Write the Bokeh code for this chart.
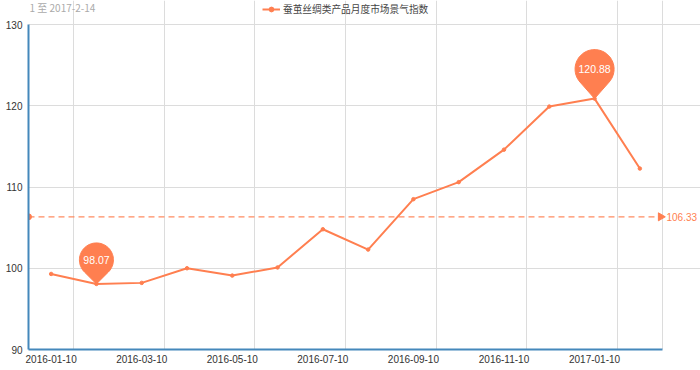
import numpy as np
from bokeh.plotting import figure
from bokeh.models import (Range1d, FixedTicker, Legend, LegendItem, Label,
                          ColumnDataSource)
from bokeh.embed import file_html
from bokeh.resources import INLINE
from bokeh.core.properties import value

# ---------------- data ----------------
dates = ["2016-01-10", "2016-02-10", "2016-03-10", "2016-04-10", "2016-05-10",
         "2016-06-10", "2016-07-10", "2016-08-10", "2016-09-10", "2016-10-10",
         "2016-11-10", "2016-12-10", "2017-01-10", "2017-02-10"]
index_values = [99.3, 98.07, 98.2, 100.0, 99.1, 100.1, 104.8, 102.3,
                108.5, 110.6, 114.6, 119.9, 120.88, 112.27]
series_name = "蚕茧丝绸类产品月度市场景气指数"
range_text = "1 至 2017-2-14"
y_ticks = [90, 100, 110, 120, 130]

# ---------------- style ----------------
COLOR = "#ff7f50"
AXIS = "#4488bb"
GRID = "#dcdcdc"
TXT = "#333333"
FONT = "Liberation Sans"
CJK = "Noto Sans CJK SC"

W, H = 700, 370
L, B = 28, 21                 # left axis panel, bottom axis panel
PLOT_W, PLOT_H = 634, 325     # pixel size of the data grid
TOP_PAD = 24                  # space above the grid (inside the frame)
RIGHT_PAD = W - L - PLOT_W    # space right of the grid (inside the frame)

n = len(dates)
xs = np.arange(n) + 0.5
ys = np.array(index_values)
mean = float(np.mean(ys))
y0, y1 = y_ticks[0], y_ticks[-1]
pxx = PLOT_W / n
pxy = PLOT_H / (y1 - y0)

p = figure(width=W, height=H, output_backend="svg", toolbar_location=None,
           x_range=Range1d(0, n + RIGHT_PAD / pxx),
           y_range=Range1d(y0, y1 + TOP_PAD / pxy),
           min_border_left=L, min_border_right=0, min_border_top=0,
           min_border_bottom=B, background_fill_color="white",
           border_fill_color="white", outline_line_color=None)

# axes
p.xaxis.ticker = FixedTicker(ticks=list(xs[::2]))
p.xaxis.major_label_overrides = {float(x): d for x, d in zip(xs[::2], dates[::2])}
p.xaxis.bounds = (0, n)
p.yaxis.ticker = FixedTicker(ticks=y_ticks)
p.yaxis.bounds = (y0, y1)
for ax in (p.xaxis[0], p.yaxis[0]):
    ax.axis_line_color = AXIS
    ax.axis_line_width = 2
    ax.major_tick_line_color = None
    ax.minor_tick_line_color = None
    ax.major_tick_out = 0
    ax.minor_tick_out = 0
    ax.major_label_text_font = FONT
    ax.major_label_text_font_size = "10px"
    ax.major_label_text_color = TXT
p.xaxis.major_label_standoff = 5
p.yaxis.major_label_standoff = 6

# grid
p.xgrid.ticker = FixedTicker(ticks=list(np.arange(1, n, 2)) + [n])
p.xgrid.bounds = (y0, y1)
p.ygrid.ticker = FixedTicker(ticks=y_ticks)
p.ygrid.bounds = (0, n)
p.xgrid.grid_line_color = GRID
p.ygrid.grid_line_color = GRID

# average mark line
p.line([0, n], [mean, mean], line_color=COLOR, line_width=1.3,
       line_dash="6 4", line_alpha=0.9)
p.scatter([0], [mean], size=6, color=COLOR)
p.scatter([n - 0.04], [mean], marker="triangle", size=8, angle=-np.pi / 2,
          color=COLOR)
p.add_layout(Label(x=n, y=mean, x_offset=4, text=f"{mean:.2f}",
                   text_baseline="middle", text_font=FONT,
                   text_font_size="10px", text_color=COLOR))

# series
line_r = p.line(xs, ys, line_color=COLOR, line_width=2)
p.scatter(xs, ys, size=3.5, color=COLOR)

# pins (min and max)
for idx, r_px, d_px in ((int(np.argmin(ys)), 17, 24), (int(np.argmax(ys)), 19.5, 29.5)):
    a = np.arccos(r_px / d_px)
    t = np.linspace(-np.pi / 2 + a, 3 * np.pi / 2 - a, 60)
    px = np.concatenate([[0], r_px * np.cos(t)])
    py = np.concatenate([[0], d_px + r_px * np.sin(t)])
    p.patch(xs[idx] + px / pxx, ys[idx] + py / pxy, color=COLOR, line_color=COLOR)
    p.text([xs[idx]], [ys[idx]], text=[f"{ys[idx]:.2f}"], y_offset=-d_px,
           text_align="center", text_baseline="middle", text_color="white",
           text_font=value(FONT), text_font_size="10.5px")

# legend at the top of the frame (legend-only marker proxy with no visible point)
frame_h = PLOT_H + TOP_PAD
leg_src = ColumnDataSource(dict(x=[np.nan], y=[np.nan]))
leg_pt = p.scatter("x", "y", source=leg_src, size=7, color=COLOR)
legend = Legend(items=[LegendItem(label=series_name, renderers=[line_r, leg_pt])],
                location=(234, frame_h - 16), orientation="horizontal",
                border_line_color=None, background_fill_alpha=0,
                padding=0, margin=0, spacing=0, label_standoff=3,
                glyph_width=18, glyph_height=12, label_height=12,
                label_text_font=CJK, label_text_font_size="9.7px",
                label_text_color="#444444")
p.add_layout(legend, "center")

# range text, top-left
p.add_layout(Label(x=1, y=frame_h - 7, x_units="screen", y_units="screen",
                   text=range_text, text_baseline="middle", text_font=CJK,
                   text_font_size="10px", text_color="#aaaaaa"))

open("out.html", "w").write(file_html(p, INLINE))
